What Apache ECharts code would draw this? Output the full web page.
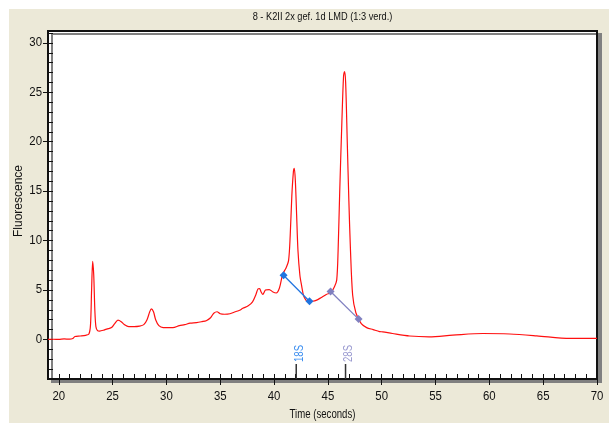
<!DOCTYPE html>
<html>
<head>
<meta charset="utf-8">
<script src="https://cdn.jsdelivr.net/npm/echarts@6/dist/echarts.min.js"></script>
<style>
html,body{margin:0;padding:0;background:#fff;}
#chart{width:609px;height:423px;}
</style>
</head>
<body>
<div id="chart"></div>
<script>
// ---- data ----
const titleText = '8 - K2II 2x gef. 1d LMD (1:3 verd.)';
const xAxisName = 'Time (seconds)';
const yAxisName = 'Fluorescence';
const traceTime = [19.0,19.5,20.0,20.5,21.0,21.3,21.5,22.0,22.5,22.8,22.95,23.05,23.15,23.25,23.35,23.45,23.6,23.8,24.2,24.6,24.9,25.2,25.5,25.8,26.1,26.5,27.0,27.5,27.9,28.2,28.45,28.6,28.8,29.0,29.3,29.7,30.2,30.6,31.2,31.7,32.2,32.8,33.3,33.7,34.1,34.4,34.7,35.0,35.4,35.9,36.4,36.8,37.1,37.6,38.0,38.3,38.5,38.65,38.8,38.96,39.2,39.55,39.9,40.2,40.5,40.8,41.1,41.35,41.5,41.65,41.8,41.88,41.98,42.1,42.22,42.4,42.55,42.75,42.95,43.15,43.5,43.9,44.4,44.85,45.3,45.6,45.82,45.95,46.1,46.3,46.45,46.55,46.65,46.8,46.95,47.1,47.3,47.6,48.1,48.6,49.2,49.8,50.1,51.0,52.6,54.4,56.6,59.4,61.9,64.4,67.5,70.0];
const traceFluor = [0.0,0.02,0.0,0.05,0.03,0.1,0.3,0.35,0.42,0.55,1.5,5.0,7.9,6.5,3.0,1.3,0.9,0.85,0.95,1.1,1.2,1.6,1.95,1.8,1.5,1.3,1.3,1.35,1.5,2.0,2.8,3.1,2.8,2.0,1.4,1.2,1.2,1.2,1.4,1.5,1.65,1.7,1.8,1.9,2.2,2.65,2.8,2.6,2.55,2.6,2.8,2.95,3.15,3.4,3.8,4.5,5.1,5.15,4.8,4.55,5.0,5.05,4.8,4.7,5.2,6.6,7.2,8.0,10.5,14.5,17.0,17.3,16.0,12.5,9.0,6.5,5.5,4.4,4.0,3.8,3.85,3.95,4.25,4.55,4.75,5.3,6.0,9.0,15.0,22.0,26.5,27.1,26.0,20.0,14.0,9.0,4.5,2.7,1.6,1.2,1.0,0.8,0.77,0.6,0.35,0.27,0.43,0.6,0.55,0.37,0.1,0.1];
const peak18S = [[40.88, 6.5], [43.29, 3.87]];
const peak28S = [[45.25, 4.85], [47.85, 2.06]];
const ladderNames = ['18S', '28S'];
const ladderTimes = [42.06, 46.64];
const xTickLabels = [20,25,30,35,40,45,50,55,60,65,70];
const yTickLabels = [0,5,10,15,20,25,30];

// ---- layout / style ----
const X_MIN = 19, X_MAX = 70, Y_MIN = -4, Y_MAX = 31.2;
const FONT_FAMILY = "'Liberation Sans', Arial, sans-serif";
const AXIS_FONT = '12px ' + FONT_FAMILY;
const TEXT_COLOR = '#111';
const ladderColors = ['#3d8ff0', '#9a9ad0'];
const xMinor = [], yMinor = [];
for (let v = Math.ceil(X_MIN); v <= X_MAX; v++) xMinor.push(v);
for (let v = Math.ceil(Y_MIN); v <= Y_MAX; v++) yMinor.push(v);

const GRID = {left: 48, top: 31, width: 549, height: 348};

const chart = echarts.init(document.getElementById('chart'), null, {renderer: 'canvas'});
const axisLineStyle = {color: '#111', width: 2};

function textEl(x, y, text, scale, opts) {
  return Object.assign({
    type: 'text', x: x, y: y, scaleX: scale, silent: true,
    style: Object.assign({text: text, font: AXIS_FONT, fill: TEXT_COLOR, align: 'center', verticalAlign: 'middle'}, opts && opts.style)
  }, opts && opts.el);
}

const option = {
  backgroundColor: '#ffffff',
  animation: false,
  graphic: [
    {type: 'rect', z: -10, silent: true, shape: {x: 9, y: 9, width: 600, height: 414}, style: {fill: '#ece9d8'}},
    textEl(GRID.left + GRID.width / 2, 17, titleText, 0.84, {style: {font: '11px ' + FONT_FAMILY}}),
    textEl(GRID.left + GRID.width / 2, 415, xAxisName, 0.8),
    textEl(19, 201, yAxisName, 1, {el: {rotation: Math.PI / 2}})
  ],
  grid: Object.assign({
    show: true, backgroundColor: '#fff', borderColor: '#111', borderWidth: 2,
    shadowColor: '#808080', shadowBlur: 0, shadowOffsetX: 4, shadowOffsetY: 3
  }, GRID),
  xAxis: [{
    type: 'value', min: X_MIN, max: X_MAX, position: 'bottom',
    axisLine: {show: true, onZero: false, lineStyle: axisLineStyle},
    axisTick: {show: true, inside: true, length: 5, customValues: xMinor, lineStyle: {color: '#111', width: 1}},
    axisLabel: {show: false}, splitLine: {show: false}
  }, {
    type: 'value', min: X_MIN, max: X_MAX, position: 'bottom',
    axisLine: {show: false, onZero: false},
    axisTick: {show: true, inside: false, length: 6, customValues: xTickLabels, lineStyle: {color: '#111', width: 1}},
    axisLabel: {show: false}, splitLine: {show: false}
  }],
  yAxis: [{
    type: 'value', min: Y_MIN, max: Y_MAX, position: 'left',
    axisLine: {show: true, onZero: false, lineStyle: axisLineStyle},
    axisTick: {show: true, inside: true, length: 5, customValues: yMinor, lineStyle: {color: '#111', width: 1}},
    axisLabel: {show: false}, splitLine: {show: false}
  }, {
    type: 'value', min: Y_MIN, max: Y_MAX, position: 'left',
    axisLine: {show: false, onZero: false},
    axisTick: {show: true, inside: false, length: 5, customValues: yTickLabels, lineStyle: {color: '#111', width: 1}},
    axisLabel: {show: false}, splitLine: {show: false}
  }],
  series: [{
    type: 'line', name: 'trace', xAxisIndex: 0, yAxisIndex: 0,
    data: traceTime.map((t, i) => [t, traceFluor[i]]),
    showSymbol: false, smooth: 0.3,
    lineStyle: {color: '#ff1010', width: 1.2}, z: 3
  }, {
    type: 'line', name: '18S', xAxisIndex: 0, yAxisIndex: 0,
    data: peak18S, symbol: 'diamond', symbolSize: 8,
    lineStyle: {color: '#1f74e0', width: 1.3}, itemStyle: {color: '#1f74e0'}, z: 4
  }, {
    type: 'line', name: '28S', xAxisIndex: 0, yAxisIndex: 0,
    data: peak28S, symbol: 'diamond', symbolSize: 8,
    lineStyle: {color: '#8080c0', width: 1.3}, itemStyle: {color: '#8080c0'}, z: 4
  }, {
    type: 'custom', name: 'xLabels', xAxisIndex: 0, yAxisIndex: 0, clip: false, silent: true,
    data: xTickLabels.map(v => [v, Y_MIN]),
    renderItem: function (params, api) {
      const p = api.coord([api.value(0), api.value(1)]);
      return textEl(p[0], p[1] + 18, String(api.value(0)), 0.95);
    }
  }, {
    type: 'custom', name: 'yLabels', xAxisIndex: 0, yAxisIndex: 0, clip: false, silent: true,
    data: yTickLabels.map(v => [X_MIN, v]),
    renderItem: function (params, api) {
      const p = api.coord([api.value(0), api.value(1)]);
      return textEl(p[0] - 6, p[1], String(api.value(1)), 0.95, {style: {align: 'right'}});
    }
  }, {
    type: 'custom', name: 'ladder', xAxisIndex: 0, yAxisIndex: 0, clip: false, z: 5, silent: true,
    data: ladderTimes.map(t => [t, Y_MIN]),
    renderItem: function (params, api) {
      const p = api.coord([api.value(0), api.value(1)]);
      const i = params.dataIndex;
      return {type: 'group', children: [
        {type: 'line', shape: {x1: p[0], y1: p[1], x2: p[0], y2: p[1] - 15},
         style: {stroke: '#333', lineWidth: 1.5}},
        textEl(p[0] + 3, p[1] - 17, ladderNames[i], 0.8,
          {style: {fill: ladderColors[i], align: 'left'}, el: {rotation: Math.PI / 2}})
      ]};
    }
  }]
};
chart.setOption(option);
</script>
</body>
</html>
